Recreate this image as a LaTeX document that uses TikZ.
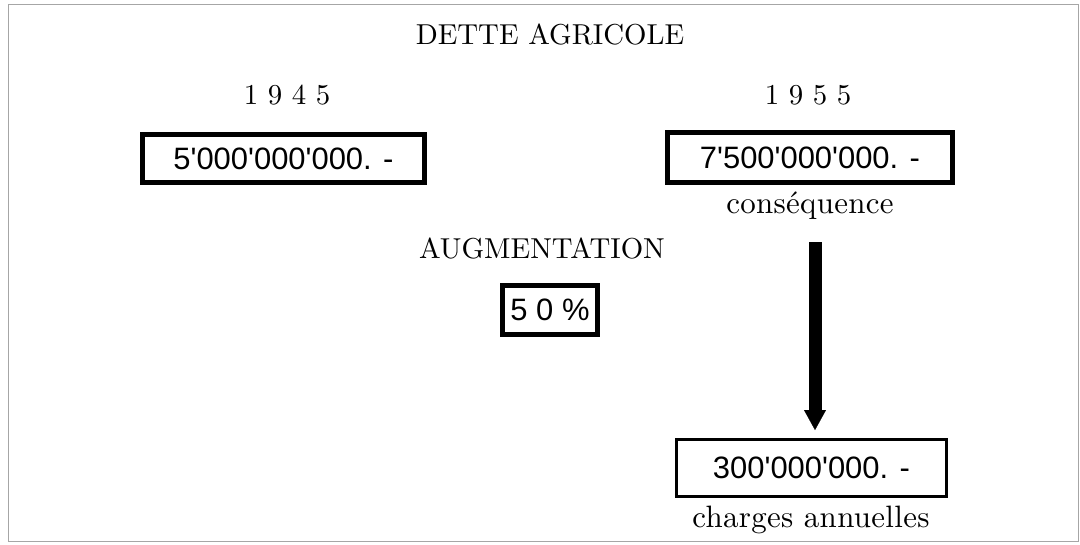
\documentclass[tikz,border=0pt]{standalone}
\usepackage{fontspec}
\newfontfamily\numfont{Liberation Sans}[Ligatures=TeXOff]
\newfontfamily\lmcaps{lmroman10-regular}[Extension=.otf]
\newfontfamily\lmlower{lmroman10-regular}[Extension=.otf, LetterSpace=1]
\usetikzlibrary{arrows.meta}
\tikzset{
  caps/.style={inner sep=0pt, anchor=base, font=\lmcaps\fontsize{20.5}{23}\selectfont},
  lower/.style={inner sep=0pt, anchor=base, font=\lmlower\fontsize{22}{24}\selectfont},
  numbox/.style={draw, line width=3.5pt, inner sep=0pt, font=\numfont\fontsize{22}{24}\selectfont},
  fatarrow/.style={line width=0.325cm, -{Triangle[width=0.55cm, length=0.5cm, line width=0.1pt]}},
}
\begin{document}
\begin{tikzpicture}[x=0.025cm, y=-0.025cm]
    \useasboundingbox (0,0) rectangle (1080,545);
    \draw[gray!70, line width=0.7pt] (8,4) rectangle (1078,541);
    \node[caps] (titre) at (550,45) {DETTE AGRICOLE};
    \node[caps] (an45) at (287,105) {1 9 4 5};
    \node[caps] (an55) at (808,105) {1 9 5 5};
    \node[numbox, minimum width=7.05cm, minimum height=1.2cm] (dette45) at (283.5,158.5) {5'000'000'000. -};
    \node[numbox, minimum width=7.125cm, minimum height=1.25cm] (dette55) at (810,157.5) {7'500'000'000. -};
    \node[lower] (cons) at (810,213) {conséquence};
    \node[caps] (augm) at (542,258) {AUGMENTATION};
    \node[numbox, minimum width=2.375cm, minimum height=1.225cm] (taux) at (550,310) {5 0 \%};
    \node[numbox, line width=2.1pt, minimum width=6.75cm, minimum height=1.425cm] (charges) at (811.5,468) {300'000'000. -};
    \node[lower] (chglbl) at (811,527) {charges annuelles};
    \coordinate (fl) at (815,242);
    \draw[fatarrow, shorten >=0.2cm] (fl) -- (fl |- charges.north);
\end{tikzpicture}
\end{document}
